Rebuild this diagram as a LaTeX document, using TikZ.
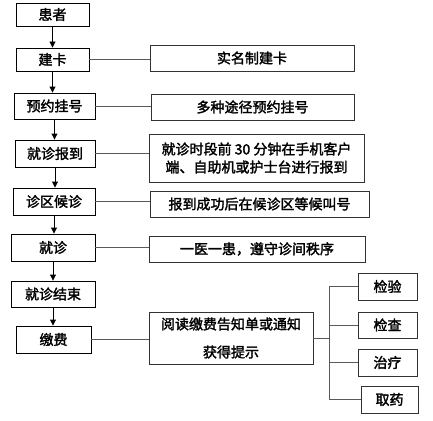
\documentclass[tikz,border=0pt]{standalone}
\usepackage{fontspec}
\setmainfont{Noto Sans CJK SC}[AutoFakeBold=2]
\usetikzlibrary{arrows.meta}
\begin{document}
\begin{tikzpicture}
	[x=1pt,y=-1pt,line width=0.9pt,
	every node/.style={rectangle,draw=black,inner sep=0pt,
	font=\fontsize{14}{18}\selectfont\bfseries,align=center},
	stepbox/.style={minimum height=26pt},
	notebox/.style={draw=black!80,minimum height=26pt},
	link/.style={draw=black!65},
	flow/.style={-{Triangle[length=6pt,width=6pt]}}]
	\useasboundingbox (0,0) rectangle (433,420);
	\node[stepbox,minimum width=73pt,minimum height=23pt] (pat) at (52.5,14.5) {患者};
	\node[stepbox,minimum width=73pt,minimum height=23pt] (card) at (52.5,59.5) {建卡};
	\node[stepbox,minimum width=81pt] (book) at (54.5,106) {预约挂号};
	\node[stepbox,minimum width=80pt,minimum height=27pt] (checkin) at (55,153.5) {就诊报到};
	\node[stepbox,minimum width=82pt,minimum height=27pt] (wait) at (54,201.5) {诊区候诊};
	\node[stepbox,minimum width=84pt,minimum height=27pt] (visit) at (53,247.5) {就诊};
	\node[stepbox,minimum width=84pt] (done) at (53,294) {就诊结束};
	\node[stepbox,minimum width=75pt,minimum height=27pt] (pay) at (53.5,339.5) {缴费};

	\node[notebox,minimum width=204pt] (realname) at (252,58) {实名制建卡};
	\node[notebox,minimum width=203pt] (ways) at (252.5,107) {多种途径预约挂号};
	\node[notebox,minimum width=215pt,minimum height=48pt] (tip30) at (256.5,158)
		{就诊时段前 30 分钟在手机客户\\端、自助机或护士台进行报到};
	\node[notebox,minimum width=219pt] (callno) at (259.5,204) {报到成功后在候诊区等候叫号};
	\node[notebox,minimum width=216pt] (order) at (257,249) {一医一患，遵守诊间秩序};
	\node[notebox,minimum width=164pt,minimum height=52pt,
		font=\fontsize{14}{28}\selectfont\bfseries] (notice) at (231,338)
		{阅读缴费告知单或通知\\获得提示};

	\node[notebox,minimum width=59pt,minimum height=27pt] (lab) at (387.5,286.5) {检验};
	\node[notebox,minimum width=59pt] (exam) at (387.5,325) {检查};
	\node[notebox,minimum width=59pt,minimum height=27pt] (treat) at (387.5,362.5) {治疗};
	\node[notebox,minimum width=57pt,minimum height=27pt] (drug) at (389.5,399.5) {取药};

	\foreach \from/\to in {pat/card,card/book,book/checkin,checkin/wait,
		wait/visit,visit/done,done/pay}
		\draw[flow] (\from.south) -- (\from.south |- \to.north);

	\foreach \from/\to in {card/realname,book/ways,checkin/tip30,
		wait/callno,visit/order,pay/notice}
		\draw[link] (\from.east) -- (\from.east -| \to.west);

	\coordinate (bus) at (329,338);
	\draw[link] (notice.east) -- (bus);
	\foreach \to in {lab,exam,treat,drug}
		\draw[link] (bus) |- (\to.west);
\end{tikzpicture}
\end{document}
